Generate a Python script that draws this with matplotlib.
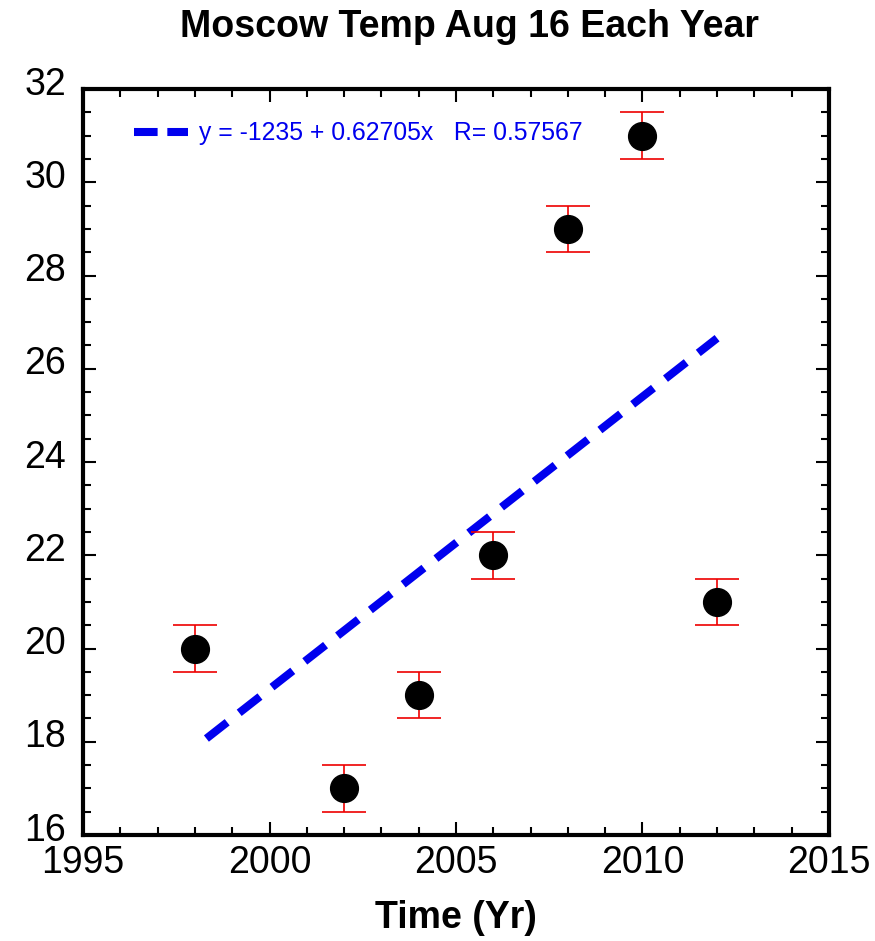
import numpy as np
import matplotlib
matplotlib.use("Agg")
import matplotlib.pyplot as plt
from matplotlib.lines import Line2D
from matplotlib.ticker import MultipleLocator
from matplotlib.transforms import ScaledTranslation

plt.rcParams['font.family'] = ['Liberation Sans', 'DejaVu Sans']
plt.rcParams['lines.scale_dashes'] = False

# Temperatures in Moscow on Aug 16
years = np.array([1998, 2002, 2004, 2006, 2008, 2010, 2012])
temps = np.array([20, 17, 19, 22, 29, 31, 21])
temp_err = np.array([0.5, 0.5, 0.5, 0.5, 0.5, 0.5, 0.5])

title = "Moscow Temp Aug 16 Each Year"
xlabel = "Time (Yr)"
x_range = (1995, 2015)
y_range = (16, 32)

# Least-squares fit
slope, intercept = np.polyfit(years, temps, 1)
r = np.corrcoef(years, temps)[0, 1]

fig = plt.figure(figsize=(8.75, 9.41), dpi=100)
ax = fig.add_axes([0.0949, 0.1126, 0.8525, 0.7928])

xfit = np.array([years.min(), years.max()])
yfit = intercept + slope * xfit
ax.plot(xfit, yfit, color='#0000ee', lw=5.8, dash_capstyle='butt',
        linestyle=(19.5, (19, 11)), zorder=2)

ax.errorbar(years, temps, yerr=temp_err, fmt='none', ecolor='#ee0000',
            elinewidth=1.2, capsize=15.5, capthick=1.2, zorder=3)
ax.plot(years, temps, 'o', color='black', ms=20, zorder=4)

ax.set_xlim(*x_range)
ax.set_ylim(*y_range)
ax.xaxis.set_major_locator(MultipleLocator(5))
ax.xaxis.set_minor_locator(MultipleLocator(1))
ax.yaxis.set_major_locator(MultipleLocator(2))
ax.yaxis.set_minor_locator(MultipleLocator(0.5))
ax.tick_params(which='both', direction='in', top=True, right=True, width=1.5,
               labelsize=27)
ax.tick_params(which='major', length=9.5)
ax.tick_params(which='minor', length=6)
ax.tick_params(axis='y', pad=12)
ax.tick_params(axis='x', pad=7)
for s in ax.spines.values():
    s.set_linewidth(3)

# y tick labels sit a little above their ticks
lift = ScaledTranslation(0, 6 / 72, fig.dpi_scale_trans)
for lab in ax.get_yticklabels():
    lab.set_transform(lab.get_transform() + lift)

ax.set_xlabel(xlabel, fontsize=27, fontweight='bold', labelpad=14)
fig.text(469 / 875, 1 - 27 / 941, title, fontsize=27, fontweight='bold',
         ha='center', va='center')

label = f"y = {intercept:.4g} + {slope:.5g}x   R= {r:.5g}"
proxy = Line2D([], [], color='#0000ee', lw=5.8, dash_capstyle='butt',
               linestyle=(0, (17, 7)))
ax.legend([proxy], [label], loc='upper left', bbox_to_anchor=(0.045, 0.98),
          frameon=False, fontsize=17.8, labelcolor='#0000ee',
          handlelength=2.2, handletextpad=0.45, borderpad=0.2)

fig.savefig("out.png", dpi=100)
